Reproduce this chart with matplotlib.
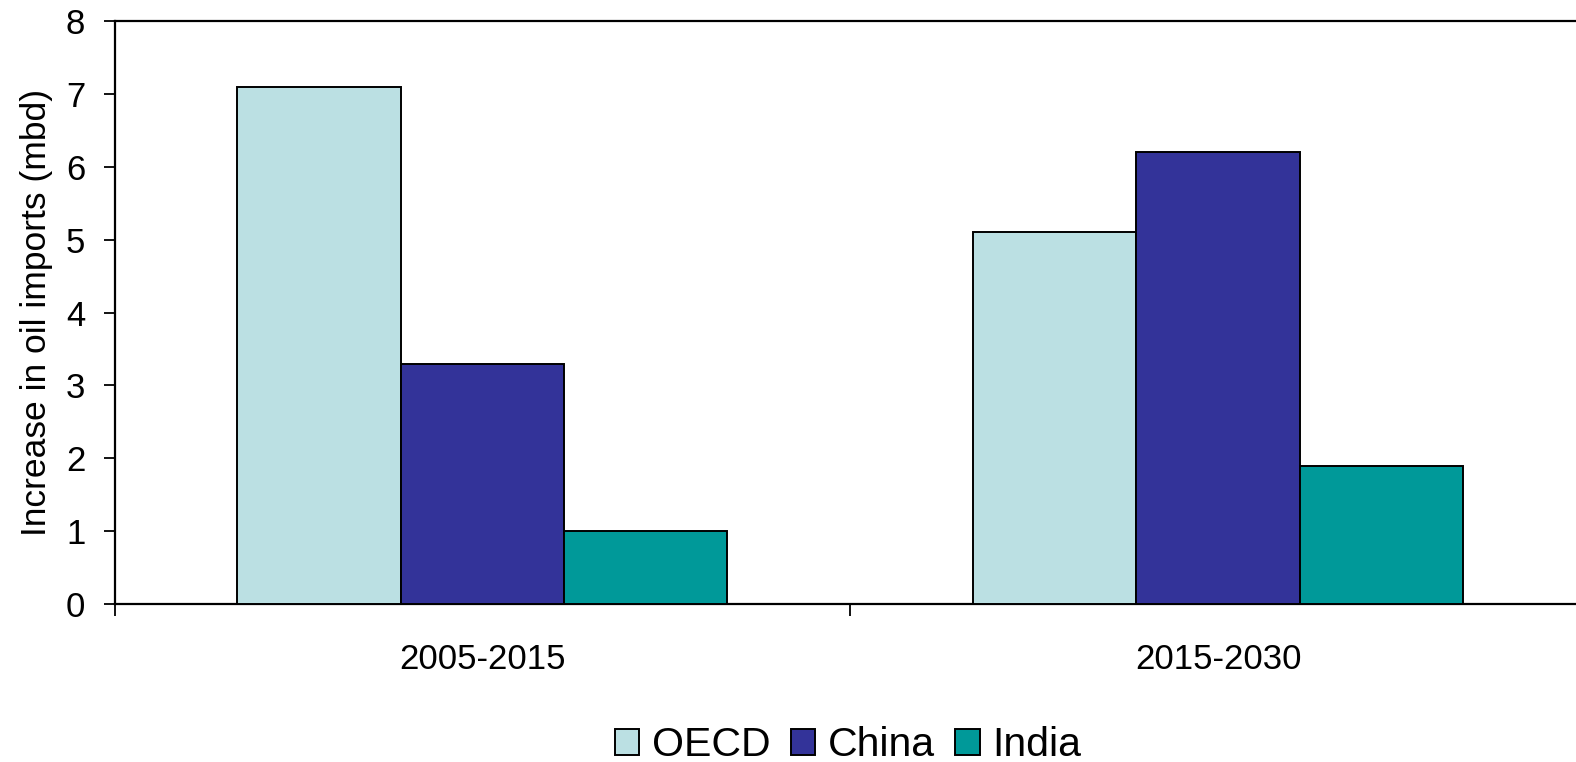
import matplotlib
matplotlib.use("Agg")
import matplotlib.pyplot as plt
import numpy as np

periods = ["2005-2015", "2015-2030"]
regions = ["OECD", "China", "India"]
oecd = [7.1, 5.1]
china = [3.3, 6.2]
india = [1.0, 1.9]
colors = ["#BBE0E3", "#333399", "#009999"]
y_ticks = [0, 1, 2, 3, 4, 5, 6, 7, 8]

plt.rcParams["font.family"] = ["Liberation Sans", "DejaVu Sans"]

W, H = 1576, 762
fig = plt.figure(figsize=(W / 100, H / 100), dpi=100)
left, right, top, bottom = 114.5, 1586, 21, 604
ax = fig.add_axes([left / W, 1 - bottom / H, (right - left) / W, (bottom - top) / H])

x = np.arange(len(periods))
w = 0.222
for i, (vals, c, name) in enumerate(zip([oecd, china, india], colors, regions)):
    ax.bar(x + (i - 1) * w, vals, width=w, color=c, edgecolor="black",
           linewidth=1.4, label=name, zorder=3)

ax.set_xlim(-0.5, len(periods) - 0.5)
ax.set_ylim(0, 8)
ax.set_yticks(y_ticks)

# major ticks mark the category boundaries, minor ticks carry the labels
ax.set_xticks(np.arange(-0.5, len(periods)), minor=False)
ax.set_xticklabels([""] * (len(periods) + 1))
ax.set_xticks(x, minor=True)
ax.set_xticklabels(periods, minor=True)
ax.tick_params(axis="x", which="minor", length=0, pad=28, labelsize=25)
ax.tick_params(axis="x", which="major", length=8.5, width=1.3, direction="out")
ax.tick_params(axis="y", length=8, width=1.3, direction="out", labelsize=25, pad=13)

ax.spines["right"].set_visible(False)
for s in ["left", "bottom", "top"]:
    ax.spines[s].set_linewidth(1.6)

ax.set_ylabel("Increase in oil imports (mbd)", fontsize=25.5, labelpad=9)

fig.legend(loc="center", bbox_to_anchor=(848 / W, 1 - 745 / H), ncol=3,
           frameon=False, fontsize=29.5, handlelength=0.6, handleheight=0.6,
           handletextpad=0.3, columnspacing=0.5)

fig.savefig("out.png", dpi=100)
